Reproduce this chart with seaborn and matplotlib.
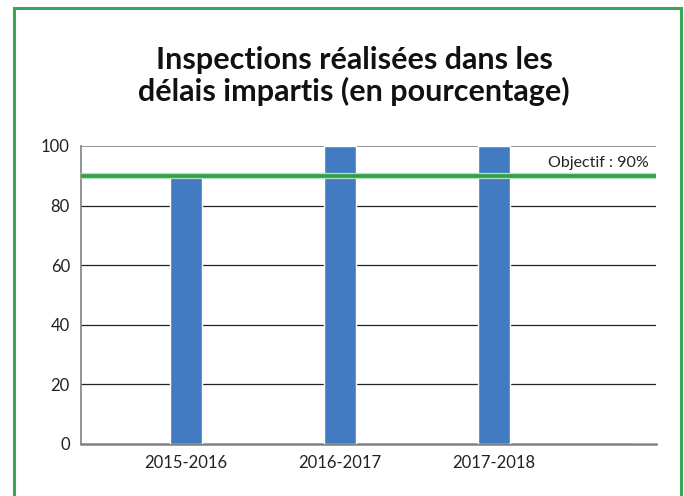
import matplotlib
matplotlib.use('Agg')
import numpy as np
import pandas as pd
import seaborn as sns
import matplotlib.pyplot as plt
from matplotlib.patches import Rectangle

# data
years = ["2015-2016", "2016-2017", "2017-2018", ""]
pct = [89.5, 100, 100, 0]
target = 90
target_label = "Objectif : 90%"
title = "Inspections réalisées dans les\ndélais impartis (en pourcentage)"

sns.set_style("white")
plt.rcParams['font.family'] = ['Lato', 'DejaVu Sans']

fig = plt.figure(figsize=(6.84, 4.96), dpi=100)
ax = fig.add_axes([81/684, 1-444/496, (656-81)/684, (444-146)/496])

df = pd.DataFrame({"year": years, "pct": pct})
sns.barplot(data=df, x="year", y="pct", color="#427BC1", saturation=1,
            width=0.21, ax=ax, zorder=3)

ax.set_xlim(-0.68, 3.05)
ax.set_ylim(0, 100)
ax.set_yticks([0, 20, 40, 60, 80, 100])
ax.set_xticks([0, 1, 2])
ax.set_xticklabels(years[:3])
ax.set_xlabel("")
ax.set_ylabel("")
ax.tick_params(axis="both", length=0, labelsize=12, colors="#222222", pad=8)

for v in [20, 40, 60, 80]:
    ax.axhline(v, color="#222222", lw=0.9, zorder=1)
ax.axhline(100, color="#808080", lw=1.2, zorder=1)

# objective line
ax.axhline(target, color="#b5dfb9", lw=4.5, zorder=4)
ax.axhline(target, color="#2f9e48", lw=2.6, zorder=5)
ax.text(3.0, 94.3, target_label, ha="right", va="center", fontsize=11.5, color="#222222")

for s in ["top", "right"]:
    ax.spines[s].set_visible(False)
ax.spines["left"].set_color("#808080")
ax.spines["left"].set_linewidth(1.2)
ax.spines["bottom"].set_color("#808080")
ax.spines["bottom"].set_linewidth(1.8)

fig.text(354/684, 1-76/496, title, ha="center", va="center", fontsize=22,
         fontweight="bold", linespacing=1.15, color="#111111")

# green frame
fig.patches.append(Rectangle((14/684, -0.05), (681-14)/684, 1.05 - 8/496,
                             transform=fig.transFigure, fill=False,
                             edgecolor="#3aa655", lw=2.2))

fig.savefig("out.png", dpi=100)
